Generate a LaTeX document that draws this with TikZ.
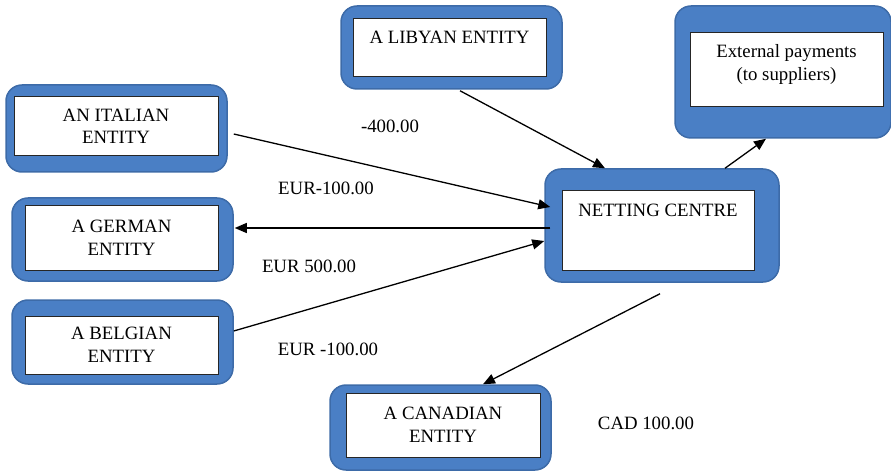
\documentclass[tikz,border=0pt]{standalone}
\usepackage{fontspec}
\setmainfont{Liberation Serif}
\usetikzlibrary{arrows.meta,calc,positioning}
\definecolor{boxblue}{HTML}{4A7FC5}
\definecolor{boxedge}{HTML}{3D6BA8}

\begin{document}
\begin{tikzpicture}[x=1pt,y=-1pt,>={Triangle[length=12pt,width=10pt]},
  outer/.style={draw=boxedge,fill=boxblue,line width=1.5pt,rounded corners=16pt},
  inner/.style={draw=black!85,fill=white,line width=1pt,align=center,font=\fontsize{18.8}{22.5}\selectfont},
  txt/.style={inner sep=0pt,align=center,font=\fontsize{18.8}{22.5}\selectfont},
  flow/.style={->,line width=1.3pt}]
  \useasboundingbox (0,0) rectangle (891,473);
  % Kaesten
  \node[outer,minimum width=221,minimum height=87] (italy) at (116.5,128.5) {};
  \node[inner,minimum width=204,minimum height=59] (italyIn) at (116,126.5) {AN ITALIAN\\ENTITY};
  \node[outer,minimum width=221,minimum height=83] (germany) at (122.5,239.5) {};
  \node[inner,minimum width=193,minimum height=64] (germanyIn) at (121.5,238) {A GERMAN\\ENTITY};
  \node[outer,minimum width=221,minimum height=84] (belgium) at (122.5,342) {};
  \node[inner,minimum width=193,minimum height=58] (belgiumIn) at (121.5,345) {A BELGIAN\\ENTITY};
  \node[outer,minimum width=221,minimum height=85] (canada) at (440.5,427.5) {};
  \node[inner,minimum width=194,minimum height=64] (canadaIn) at (443,425) {A CANADIAN\\ENTITY};
  \node[outer,minimum width=221,minimum height=83] (libya) at (451.5,47.5) {};
  \node[inner,minimum width=193,minimum height=58] (libyaIn) at (449.5,48) {};
  \node[txt,below=12pt of libyaIn.north] (libyaT) {A LIBYAN ENTITY};
  \node[outer,minimum width=216,minimum height=132] (extern) at (783,72) {};
  \node[inner,minimum width=193,minimum height=74] (externIn) at (786.5,70) {};
  \node[txt,below=12pt of externIn.north] (externT) {External payments\\(to suppliers)};
  \node[outer,minimum width=234,minimum height=113] (netting) at (662,225.5) {};
  \node[inner,minimum width=192,minimum height=79] (nettingIn) at (658,230.5) {};
  \node[txt,below=13pt of nettingIn.north] (nettingT) {NETTING CENTRE};
  % Pfeile
  \draw[flow] ($(italy.east)+(6,5.5)$) -- ($(netting.west)+(6,-18.5)$);
  \draw[flow] ($(netting.west)+(6,2.5)$) -- ($(germany.east)+(1,-11.5)$);
  \draw[flow] ($(belgium.east)+(0,-11)$) -- ($(netting.west)+(0,15.5)$);
  \draw[flow] ($(libya.south)+(8.5,1)$) -- ($(netting.north)+(-57,0)$);
  \draw[flow] ($(netting.north)+(63,0)$) -- ($(extern.south)+(-17,0)$);
  \draw[flow] ($(netting.south)+(-2,11)$) -- ($(canada.north)+(42.5,0)$);
  % Betraege
  \node[txt] (amtLibya) at (390,126) {-400.00};
  \node[txt] (amtItaly) at (326,188) {EUR-100.00};
  \node[txt] (amtGermany) at (309,266) {EUR 500.00};
  \node[txt] (amtBelgium) at (328,349) {EUR -100.00};
  \node[txt] (amtCanada) at (646,423) {CAD 100.00};
\end{tikzpicture}
\end{document}
